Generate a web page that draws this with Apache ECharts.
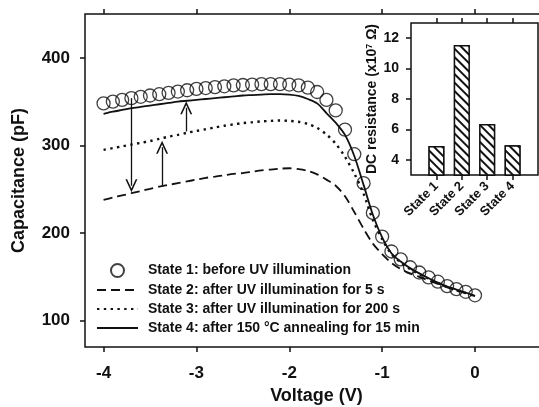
<!DOCTYPE html>
<html>
<head>
<meta charset="utf-8">
<script src="https://cdn.jsdelivr.net/npm/echarts@6/dist/echarts.min.js"></script>
<style>
html,body{margin:0;padding:0;background:#fff;}
#chart{width:539px;height:407px;}
</style>
</head>
<body>
<div id="chart"></div>
<script>
// ---- data ----
const voltage = [-4.0,-3.9,-3.8,-3.7,-3.6,-3.5,-3.4,-3.3,-3.2,-3.1,-3.0,-2.9,-2.8,-2.7,-2.6,-2.5,-2.4,-2.3,-2.2,-2.1,-2.0,-1.9,-1.8,-1.7,-1.6,-1.5,-1.4,-1.3,-1.2,-1.1,-1.0,-0.9,-0.8,-0.7,-0.6,-0.5,-0.4,-0.3,-0.2,-0.1,0.0];
const state1 = [348,350,352,354,355.5,357,358.5,360,361.5,363,364.5,365.5,366.5,367.5,368.5,369,369.5,370,370,370,369.5,368.5,366,361,352,340,318,290,257,223,196,179,170,161,155,149.5,144.5,139.5,136,133,129];
const state2 = [238,240.5,243,245.5,248,250.5,253,255,257,259,261,263,264.5,266,267.5,268.5,270,271.5,272.5,273.5,274,273,271,267,261,254,242,224,205,188,176,166,159,154,150,146,142,138,134.5,131.5,128];
const state3 = [295,297,299,301,303,305,307.5,310,312,314.5,316.5,318.5,320.5,322.5,324,325.5,326.5,327.5,328,328.5,328,327,324.5,320,312.5,302,287,268,245,215,193,176,166.5,159,153,148,143,138.5,135,131.5,128];
const state4 = [336,338.5,340.5,342.5,344,345.5,347,348.5,350,351,352,353,354,355,356,357,357.5,358,358.5,358.5,358,356.5,353,348,337,326,312,288,255,221,195,177,167.5,160,154,148.5,143.5,139,135.5,132,128.5];
const seriesNames = ['State 1: before UV illumination','State 2: after UV illumination for 5 s','State 3: after UV illumination for 200 s','State 4: after 150 \u00B0C annealing for 15 min'];
const xTicks = [-4,-3,-2,-1,0];
const yTicks = [100,200,300,400];
// arrows: x position, start value, arrow-head centre value
const arrowX = [-3.7,-3.37,-3.11];
const arrowFrom = [354,254,316];
const arrowTo = [254,298,343];
// inset
const insetStates = ['State 1','State 2','State 3','State 4'];
const insetPos = [1,2,3,4];
const resistance = [4.9,11.55,6.35,4.95];
const insetYTicks = [4,6,8,10,12];

const FONT = 'Liberation Sans, Arial, sans-serif';
const TXT = '#111';
const zip = (xs, ys) => xs.map((x,i)=>[x, ys[i]]);

const chevron = 'path://M0,12 L6,0 L12,12 L10.3,12 L6,3.4 L1.7,12 Z';

const arrowLines = arrowX.map((x,i)=>[
  {coord:[x, arrowFrom[i]], symbol:'none'},
  {coord:[x, arrowTo[i]], symbol:chevron, symbolSize:[12,13]}
]);

const hiddenSym = {color:'rgba(0,0,0,0)', borderColor:'rgba(0,0,0,0)', borderWidth:0, opacity:0};

const chart = echarts.init(document.getElementById('chart'), null, {renderer:'canvas'});
const option = {
  animation:false,
  backgroundColor:'#fff',
  textStyle:{fontFamily:FONT},
  grid:[
    {left:85, top:14, width:455, height:333, show:true, borderColor:'#111', borderWidth:1.5, backgroundColor:'transparent', containLabel:false, outerBoundsMode:'none'},
    {left:411, top:23, width:127, height:152, show:true, borderColor:'#111', borderWidth:1.5, backgroundColor:'#fff', containLabel:false, outerBoundsMode:'none', z:5}
  ],
  legend:{
    orient:'vertical', left:91, top:258, itemWidth:41, itemHeight:13, itemGap:5,
    data:[
      {name:seriesNames[0]},
      {name:seriesNames[1], itemStyle:hiddenSym},
      {name:seriesNames[2], itemStyle:hiddenSym},
      {name:seriesNames[3], itemStyle:hiddenSym}
    ],
    textStyle:{fontFamily:FONT, fontSize:14, fontWeight:'bold', color:TXT, padding:[0,0,0,5]},
    selectedMode:false
  },
  xAxis:[
    {gridIndex:0, type:'value', min:-4.2, max:0.7, position:'bottom',
     axisLine:{show:false, onZero:false}, splitLine:{show:false},
     axisTick:{show:true, inside:false, length:5, customValues:xTicks, lineStyle:{color:'#111', width:1.5}},
     axisLabel:{customValues:xTicks, margin:18, fontFamily:FONT, fontSize:17, fontWeight:'bold', color:TXT, formatter:v=>String(v)},
     name:'Voltage (V)', nameLocation:'middle', nameGap:40,
     nameTextStyle:{fontFamily:FONT, fontSize:18, fontWeight:'bold', color:TXT, padding:[0,0,0,8]}},
    {gridIndex:0, type:'value', min:-4.2, max:0.7, position:'top',
     axisLine:{show:false, onZero:false}, splitLine:{show:false},
     axisTick:{show:true, inside:false, length:5, customValues:xTicks, lineStyle:{color:'#111', width:1.5}},
     axisLabel:{show:false}},
    {gridIndex:1, type:'value', min:0, max:5, position:'bottom',
     axisLine:{show:false, onZero:false}, splitLine:{show:false},
     axisTick:{show:true, inside:false, length:5, customValues:insetPos, lineStyle:{color:'#111', width:1.5}},
     axisLabel:{customValues:insetPos, rotate:45, margin:9, fontFamily:FONT, fontSize:13, fontWeight:'bold', color:TXT,
       formatter:v=>insetStates[Math.round(v)-1] || ''}},
    {gridIndex:1, type:'value', min:0, max:5, position:'top',
     axisLine:{show:false, onZero:false}, splitLine:{show:false},
     axisTick:{show:true, inside:false, length:5, customValues:insetPos, lineStyle:{color:'#111', width:1.5}},
     axisLabel:{show:false}}
  ],
  yAxis:[
    {gridIndex:0, type:'value', min:70, max:450, position:'left',
     axisLine:{show:false, onZero:false}, splitLine:{show:false},
     axisTick:{show:true, inside:false, length:5, customValues:yTicks, lineStyle:{color:'#111', width:1.5}},
     axisLabel:{customValues:yTicks, margin:15, fontFamily:FONT, fontSize:17, fontWeight:'bold', color:TXT},
     name:'Capacitance (pF)', nameLocation:'middle', nameGap:57, nameRotate:90,
     nameTextStyle:{fontFamily:FONT, fontSize:18, fontWeight:'bold', color:TXT}},
    {gridIndex:1, type:'value', min:3, max:13, position:'left',
     axisLine:{show:false, onZero:false}, splitLine:{show:false},
     axisTick:{show:true, inside:false, length:5, customValues:insetYTicks, lineStyle:{color:'#111', width:1.5}},
     axisLabel:{customValues:insetYTicks, margin:12, fontFamily:FONT, fontSize:14, fontWeight:'bold', color:TXT},
     name:'{a|DC resistance (x10}{s|7}{a| \u03A9)}', nameLocation:'middle', nameGap:32, nameRotate:90,
     nameTextStyle:{rich:{
       a:{fontFamily:FONT, fontSize:14, fontWeight:'bold', color:TXT},
       s:{fontFamily:FONT, fontSize:9, fontWeight:'bold', color:TXT, verticalAlign:'top'}
     }}}
  ],
  series:[
    {name:seriesNames[0], type:'scatter', xAxisIndex:0, yAxisIndex:0, data:zip(voltage,state1),
     symbol:'circle', symbolSize:13, z:4,
     itemStyle:{color:'rgba(255,255,255,0)', borderColor:'#111', borderWidth:1.3}},
    {name:seriesNames[1], type:'line', xAxisIndex:0, yAxisIndex:0, data:zip(voltage,state2),
     symbol:'none', showSymbol:false, smooth:0.3, z:3,
     lineStyle:{color:'#111', width:1.8, type:[9,5]}, itemStyle:{color:'#111'}},
    {name:seriesNames[2], type:'line', xAxisIndex:0, yAxisIndex:0, data:zip(voltage,state3),
     symbol:'none', showSymbol:false, smooth:0.3, z:3,
     lineStyle:{color:'#111', width:2.4, type:[2.4,4.4]}, itemStyle:{color:'#111'}},
    {name:seriesNames[3], type:'line', xAxisIndex:0, yAxisIndex:0, data:zip(voltage,state4),
     symbol:'none', showSymbol:false, smooth:0.3, z:3,
     lineStyle:{color:'#111', width:1.8}, itemStyle:{color:'#111'},
     markLine:{silent:true, symbol:['none', chevron], symbolSize:12, animation:false,
       label:{show:false}, lineStyle:{color:'#111', width:1.3, type:'solid'}, itemStyle:{color:'#111'},
       emphasis:{disabled:true}, data:arrowLines}},
    {type:'bar', xAxisIndex:2, yAxisIndex:1, data:zip(insetPos,resistance), barWidth:16, z:6,
     itemStyle:{color:'#fff', borderColor:'#111', borderWidth:1.4,
       decal:{symbol:'rect', symbolSize:1, dashArrayX:[1,0], dashArrayY:[1.4,3.4], rotation:Math.PI/4, color:'#111', backgroundColor:'#fff'}}}
  ]
};
chart.setOption(option);
</script>
</body>
</html>
